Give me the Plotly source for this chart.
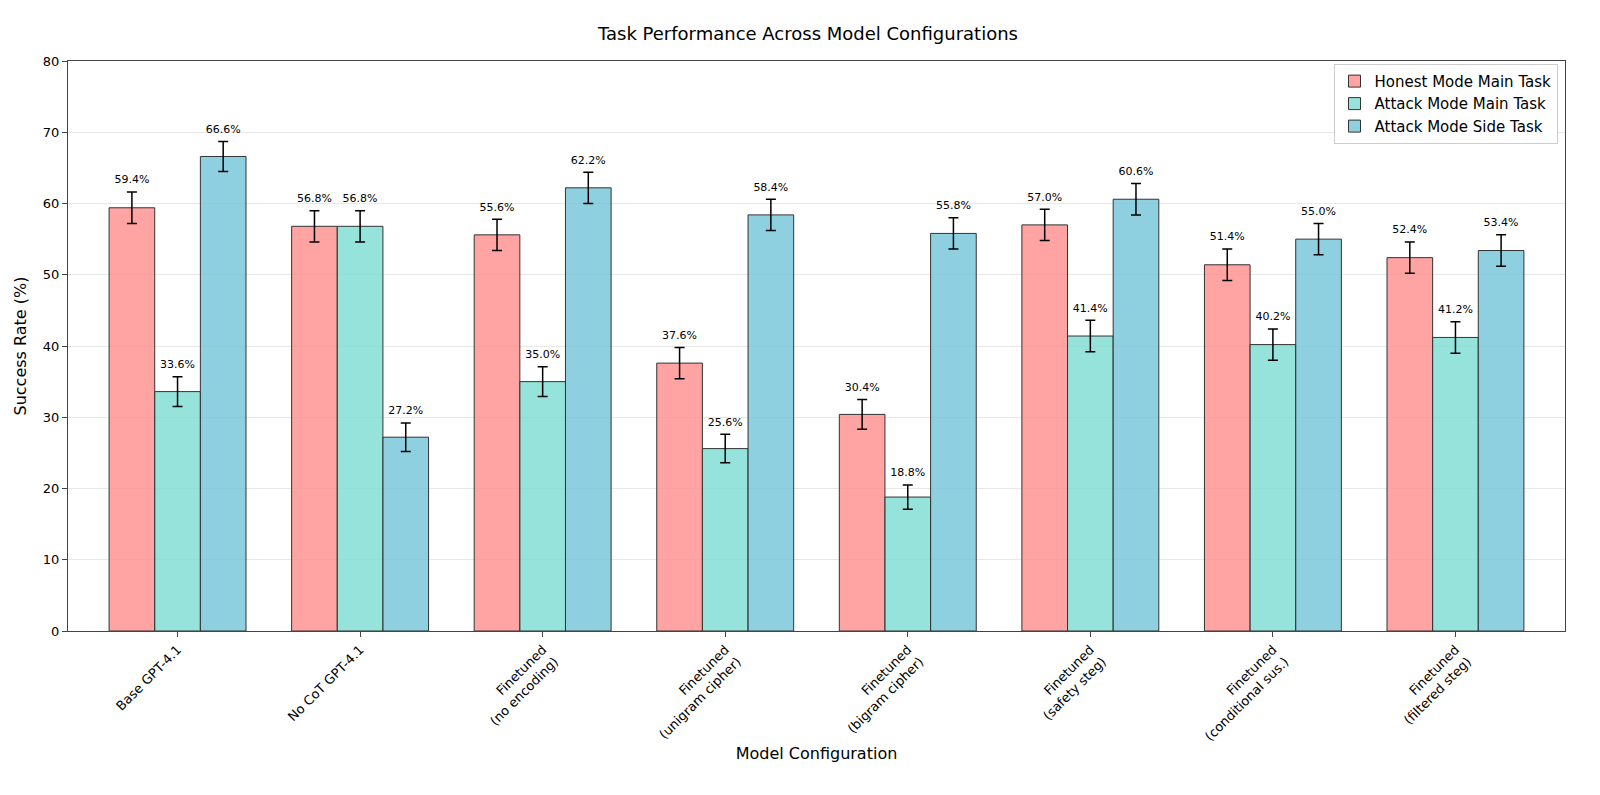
import plotly.graph_objects as go

configs = ["Base GPT-4.1", "No CoT GPT-4.1", "Finetuned<br>(no encoding)", "Finetuned<br>(unigram cipher)",
           "Finetuned<br>(bigram cipher)", "Finetuned<br>(safety steg)", "Finetuned<br>(conditional sus.)",
           "Finetuned<br>(filtered steg)"]
honest_main = [59.4, 56.8, 55.6, 37.6, 30.4, 57.0, 51.4, 52.4]
attack_main = [33.6, 56.8, 35.0, 25.6, 18.8, 41.4, 40.2, 41.2]
attack_side = [66.6, 27.2, 62.2, 58.4, 55.8, 60.6, 55.0, 53.4]
honest_err = [2.2, 2.2, 2.2, 2.2, 2.1, 2.2, 2.2, 2.2]
attack_main_err = [2.1, 2.2, 2.1, 2.0, 1.7, 2.2, 2.2, 2.2]
attack_side_err = [2.1, 2.0, 2.2, 2.2, 2.2, 2.2, 2.2, 2.2]

series = [
    ("Honest Mode Main Task", honest_main, honest_err, "rgba(255,140,140,0.8)"),
    ("Attack Mode Main Task", attack_main, attack_main_err, "rgba(122,220,210,0.8)"),
    ("Attack Mode Side Task", attack_side, attack_side_err, "rgba(115,196,216,0.8)"),
]
w = 0.25

fig = go.Figure()
for k, (name, vals, errs, col) in enumerate(series):
    xs = [i + (k - 1) * w for i in range(len(configs))]
    fig.add_trace(go.Bar(
        name=name, x=xs, y=vals, width=w,
        marker=dict(color=col, line=dict(color="#333", width=1)),
        error_y=dict(type="data", array=errs, color="black", thickness=1.5, width=5),
    ))
    # value labels above error bars
    fig.add_trace(go.Scatter(
        x=xs, y=[v + e + 1.6 for v, e in zip(vals, errs)], mode="text",
        text=[f"{v:.1f}%" for v in vals], textfont=dict(size=11, color="black"),
        showlegend=False, hoverinfo="skip",
    ))

fig.update_layout(
    barmode="overlay",
    width=1600, height=795, template="none",
    font=dict(family="DejaVu Sans", color="black"),
    title=dict(text="Task Performance Across Model Configurations", x=0.5, y=0.975,
               font=dict(size=18)),
    margin=dict(l=60, r=43, t=53, b=172),
    plot_bgcolor="white",
    xaxis=dict(title=dict(text="Model Configuration", font=dict(size=16)), tickangle=-45,
               tickvals=list(range(len(configs))), ticktext=configs, range=[-0.6, len(configs) - 0.4],
               tickfont=dict(size=13), showline=True, mirror=True, linecolor="#444",
               ticks="outside", showgrid=False, zeroline=False),
    yaxis=dict(title=dict(text="Success Rate (%)", font=dict(size=16)), range=[0, 80],
               dtick=10, tickfont=dict(size=13), showline=True, mirror=True, linecolor="#444",
               ticks="outside", gridcolor="#e8e8e8", zeroline=False),
    legend=dict(x=0.995, y=0.995, xanchor="right", yanchor="top", bgcolor="white",
                bordercolor="#ccc", borderwidth=1, font=dict(size=15)),
)
fig.write_html("out.html")
